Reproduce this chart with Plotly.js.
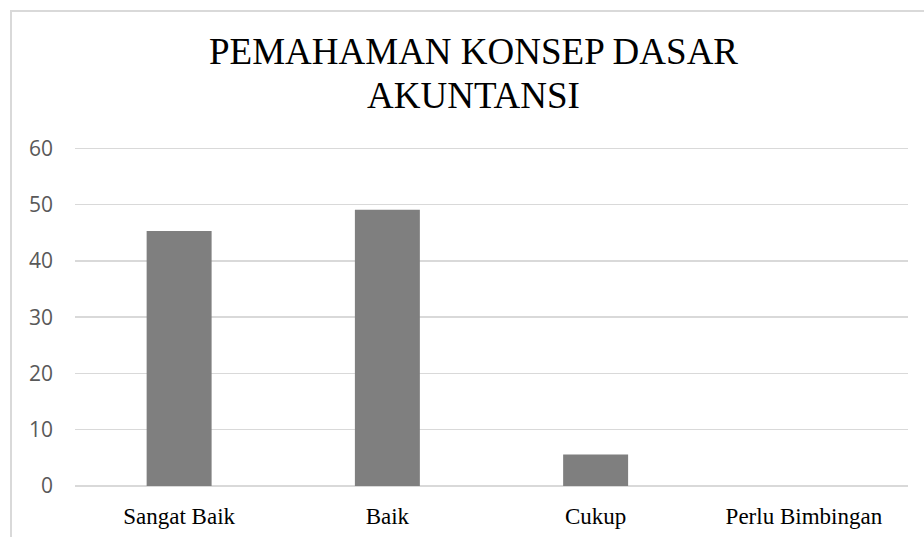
<!DOCTYPE html>
<html>
<head>
<meta charset="utf-8">
<script src="https://cdn.plot.ly/plotly-3.0.1.min.js"></script>
<style>
  html, body { margin: 0; padding: 0; background: #ffffff; width: 924px; height: 537px; overflow: hidden; }
  #frame { position: absolute; left: 10px; top: 10px; width: 1000px; height: 600px;
           border-left: 2px solid #d9d9d9; border-top: 2px solid #d9d9d9; box-sizing: border-box; }
  #chart { position: absolute; left: 0; top: 0; width: 924px; height: 537px; }
</style>
</head>
<body>
<div id="frame"></div>
<div id="chart"></div>
<script>
const titleLines = ["PEMAHAMAN KONSEP DASAR", "AKUNTANSI"];
const categories = ["Sangat Baik", "Baik", "Cukup", "Perlu Bimbingan"];
const values = [45.3, 49.1, 5.6, 0];
const yTicks = [0, 10, 20, 30, 40, 50, 60];

const trace = {
  type: "bar",
  x: categories,
  y: values,
  marker: { color: "#7f7f7f", line: { width: 0 } },
  hoverinfo: "x+y"
};

const layout = {
  width: 924,
  height: 537,
  margin: { l: 75, r: 16, t: 145, b: 51 },
  paper_bgcolor: "rgba(0,0,0,0)",
  plot_bgcolor: "rgba(0,0,0,0)",
  bargap: 0.688,
  showlegend: false,
  xaxis: {
    type: "category",
    showgrid: false,
    zeroline: false,
    showline: false,
    ticks: "",
    ticklabelstandoff: 14,
    tickfont: { family: "Liberation Serif, Times New Roman, serif", size: 23, color: "#000000" }
  },
  yaxis: {
    range: [0, 60.6],
    tickvals: yTicks,
    ticktext: yTicks.map(String),
    showgrid: true,
    gridcolor: "#d9d9d9",
    gridwidth: 1.5,
    zeroline: true,
    zerolinecolor: "#d9d9d9",
    zerolinewidth: 1.5,
    showline: false,
    ticks: "",
    ticklabelstandoff: 21,
    tickfont: { family: "Open Sans, Noto Sans, sans-serif", size: 21, color: "#595959" }
  },
  annotations: [
    { text: titleLines[0], xref: "paper", yref: "paper", x: 0.4785, y: 1.2736,
      xanchor: "center", yanchor: "middle", showarrow: false,
      font: { family: "Liberation Serif, Times New Roman, serif", size: 37, color: "#000000" } },
    { text: titleLines[1], xref: "paper", yref: "paper", x: 0.4785, y: 1.1466,
      xanchor: "center", yanchor: "middle", showarrow: false,
      font: { family: "Liberation Serif, Times New Roman, serif", size: 37, color: "#000000" } }
  ]
};

Plotly.newPlot("chart", [trace], layout, { displayModeBar: false, staticPlot: true });
</script>
</body>
</html>
